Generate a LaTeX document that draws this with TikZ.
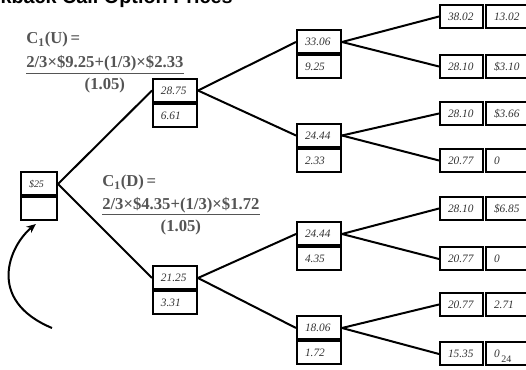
\documentclass[tikz,border=0pt]{standalone}
\usepackage{fontspec}
\setmainfont{Liberation Serif}
\newfontfamily\headfont{Liberation Sans}
\usetikzlibrary{arrows.meta}
\definecolor{ink}{HTML}{333333}
\definecolor{fracgray}{HTML}{555555}
\begin{document}
\begin{tikzpicture}[x=0.75pt,y=-0.75pt,
  cell/.style={draw=black, line width=1.5pt, inner xsep=6pt, inner ysep=0pt,
    minimum height=17.25pt, text width=21pt, align=left,
    font=\itshape\fontsize{8.5}{9}\selectfont, text=ink},
  rootcell/.style={cell, text width=15pt, font=\itshape\fontsize{7.5}{9}\selectfont},
  leafcell/.style={cell, text width=20.25pt},
  link/.style={line width=1.5pt},
  frac/.style={inner sep=0pt, text=fracgray, font=\bfseries\fontsize{12.5}{14}\selectfont},
  fracrule/.style={draw=fracgray, line width=0.9pt}
]
\useasboundingbox (0,0) rectangle (526,370);

% heading
\node[anchor=base west, inner sep=0pt, font=\headfont\bfseries\fontsize{14.85}{16}\selectfont] (title) at (-36,4) {Lookback Call Option Prices};

% root
\node[rootcell] (r) at (39,184) {\$25};
\node[rootcell, anchor=north] (rv) at (r.south) {};

% first period
\node[cell] (u) at (175,90.5) {28.75};
\node[cell, anchor=north] (uv) at (u.south) {6.61};
\node[cell] (d) at (175,278) {21.25};
\node[cell, anchor=north] (dv) at (d.south) {3.31};

% second period
\node[cell] (uu) at (319,42) {33.06};
\node[cell, anchor=north] (uuv) at (uu.south) {9.25};
\node[cell] (ud) at (319,135.5) {24.44};
\node[cell, anchor=north] (udv) at (ud.south) {2.33};
\node[cell] (du) at (319,234) {24.44};
\node[cell, anchor=north] (duv) at (du.south) {4.35};
\node[cell] (dd) at (319,328) {18.06};
\node[cell, anchor=north] (ddv) at (dd.south) {1.72};

% terminal prices and payoffs
\node[leafcell] (uuu) at (461.5,16.5) {38.02};
\node[leafcell] (uuuv) at (507.5,16.5) {13.02};
\node[leafcell] (uud) at (461.5,66.5) {28.10};
\node[leafcell] (uudv) at (507.5,66.5) {\$3.10};
\node[leafcell] (udu) at (461.5,113.5) {28.10};
\node[leafcell] (uduv) at (507.5,113.5) {\$3.66};
\node[leafcell] (udd) at (461.5,160.5) {20.77};
\node[leafcell] (uddv) at (507.5,160.5) {0};
\node[leafcell] (duu) at (461.5,208.5) {28.10};
\node[leafcell] (duuv) at (507.5,208.5) {\$6.85};
\node[leafcell] (dud) at (461.5,259) {20.77};
\node[leafcell] (dudv) at (507.5,259) {0};
\node[leafcell] (ddu) at (461.5,304.5) {20.77};
\node[leafcell] (dduv) at (507.5,304.5) {2.71};
\node[leafcell] (ddd) at (461.5,354) {15.35};
\node[leafcell] (dddv) at (507.5,354) {0};

% branches
\draw[link] (r.east) -- (u.west);
\draw[link] (r.east) -- (d.west);
\draw[link] (u.east) -- (uu.west);
\draw[link] (u.east) -- (ud.west);
\draw[link] (d.east) -- (du.west);
\draw[link] (d.east) -- (dd.west);
\draw[link] (uu.east) -- (uuu.west);
\draw[link] (uu.east) -- (uud.west);
\draw[link] (ud.east) -- (udu.west);
\draw[link] (ud.east) -- (udd.west);
\draw[link] (du.east) -- (duu.west);
\draw[link] (du.east) -- (dud.west);
\draw[link] (dd.east) -- (ddu.west);
\draw[link] (dd.east) -- (ddd.west);

% backward induction arrow
\coordinate (tail) at (52,328);
\draw[link, -{Stealth[length=7pt,width=6pt]}, shorten >=3pt]
  (tail) .. controls (-15,300) and (10,245) .. (rv.south);

% valuation at the up node
\node[frac, anchor=base west] (cu) at (26,44) {C\textsubscript{1}(U)\,=};
\node[frac, anchor=base west] (nu) at (26,68) {2/3×\$9.25+(1/3)×\$2.33};
\draw[fracrule] ([yshift=-1pt]nu.south west) -- ([yshift=-1pt]nu.south east);
\node[frac, anchor=base] (du5) at ([yshift=-16.5pt]nu.base) {(1.05)};

% valuation at the down node
\node[frac, anchor=base west] (cd) at (102,187) {C\textsubscript{1}(D)\,=};
\node[frac, anchor=base west] (nd) at (102,209.5) {2/3×\$4.35+(1/3)×\$1.72};
\draw[fracrule] ([yshift=-1pt]nd.south west) -- ([yshift=-1pt]nd.south east);
\node[frac, anchor=base] (dd5) at ([yshift=-16.5pt]nd.base) {(1.05)};

% page number
\node[anchor=base west, inner sep=0pt, text=ink, font=\fontsize{7.5}{9}\selectfont] (pg) at (501,363) {24};
\end{tikzpicture}
\end{document}
